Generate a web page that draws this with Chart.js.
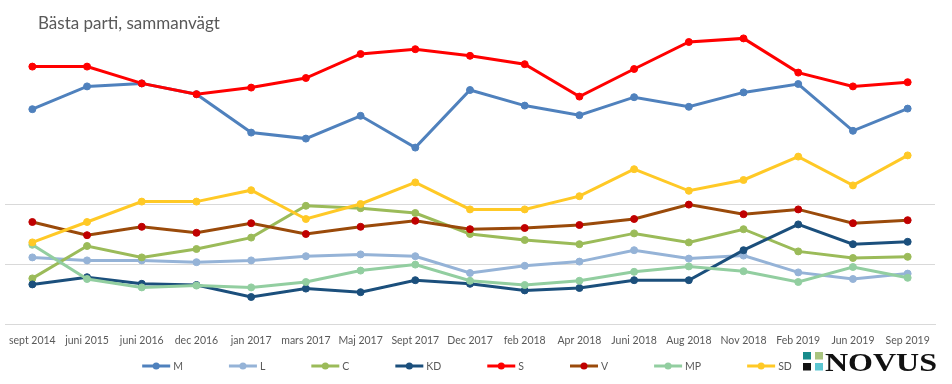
<!DOCTYPE html>
<html>
<head>
<meta charset="utf-8">
<script src="https://cdn.jsdelivr.net/npm/chart.js@4"></script>
<style>
  html, body { margin: 0; padding: 0; background: #fff; }
  #wrap { width: 952px; height: 384px; }
</style>
</head>
<body>
<div id="wrap"><canvas id="chart" width="952" height="384"></canvas></div>
<script>
// Survey rounds
const labels = ['sept 2014', 'juni 2015', 'juni 2016', 'dec 2016', 'jan 2017', 'mars 2017', 'Maj 2017', 'Sept 2017',
    'Dec 2017', 'feb 2018', 'Apr 2018', 'Juni 2018', 'Aug 2018', 'Nov 2018', 'Feb 2019', 'Jun 2019', 'Sep 2019'];

// Party values
const M  = [35.8, 39.6, 40.1, 38.3, 31.9, 30.9, 34.7, 29.4, 39.0, 36.4, 34.8, 37.8, 36.2, 38.6, 40.0, 32.2, 35.9];
const L  = [11.1, 10.6, 10.6, 10.3, 10.6, 11.3, 11.6, 11.3, 8.5, 9.7, 10.4, 12.3, 10.9, 11.4, 8.6, 7.5, 8.4];
const C  = [7.6, 13.0, 11.1, 12.5, 14.4, 19.7, 19.3, 18.5, 15.0, 14.0, 13.3, 15.1, 13.6, 15.8, 12.1, 11.0, 11.2];
const KD = [6.6, 7.8, 6.7, 6.5, 4.5, 5.9, 5.3, 7.3, 6.7, 5.6, 6.0, 7.3, 7.3, 12.3, 16.6, 13.3, 13.7];
const S  = [42.9, 42.9, 40.1, 38.3, 39.4, 41.0, 45.0, 45.8, 44.7, 43.3, 37.9, 42.5, 47.0, 47.6, 41.9, 39.6, 40.3];
const V  = [17.0, 14.8, 16.2, 15.2, 16.8, 15.0, 16.2, 17.2, 15.8, 16.0, 16.5, 17.5, 19.9, 18.3, 19.1, 16.8, 17.3];
const MP = [13.2, 7.5, 6.1, 6.4, 6.1, 7.0, 8.9, 9.9, 7.2, 6.5, 7.2, 8.7, 9.6, 8.8, 7.0, 9.5, 7.7];
const SD = [13.6, 17.0, 20.4, 20.4, 22.3, 17.5, 20.0, 23.6, 19.1, 19.1, 21.3, 25.8, 22.2, 24.0, 27.9, 23.1, 28.1];

const parties = ['M', 'L', 'C', 'KD', 'S', 'V', 'MP', 'SD'];
const series = [M, L, C, KD, S, V, MP, SD];
const lineColors = ['#4f81bd', '#95b3d7', '#9bbb59', '#1b4f7c', '#ff0000', '#9a4a0a', '#92cea0', '#ffc926'];
const dotColors  = ['#4f81bd', '#95b3d7', '#9bbb59', '#1b4f7c', '#ff0000', '#c00000', '#92cea0', '#ffc926'];

const FONT = 'Lato, "Open Sans", sans-serif';
const TEXT = '#595959';

// Title, legend and logo drawn on the canvas
const decorations = {
    id: 'decorations',
    afterDraw(chart) {
        const ctx = chart.ctx;
        const area = chart.chartArea;
        ctx.save();

        // title
        ctx.fillStyle = TEXT;
        ctx.font = '17px ' + FONT;
        ctx.textBaseline = 'alphabetic';
        ctx.textAlign = 'left';
        ctx.fillText('Bästa parti, sammanvägt', 38, 29);

        // legend: line + dot + name, centred under the plot
        ctx.font = '10.5px ' + FONT;
        const lineLen = 28, textGap = 3, itemGap = 46;
        const widths = parties.map(p => lineLen + textGap + ctx.measureText(p).width);
        const total = widths.reduce((a, b) => a + b, 0) + itemGap * (parties.length - 1);
        let x = (area.left + area.right) / 2 - total / 2 - 3;
        const ly = 366;
        ctx.textBaseline = 'middle';
        parties.forEach((p, i) => {
            ctx.strokeStyle = lineColors[i];
            ctx.lineWidth = 3;
            ctx.beginPath();
            ctx.moveTo(x, ly);
            ctx.lineTo(x + lineLen, ly);
            ctx.stroke();
            ctx.fillStyle = dotColors[i];
            ctx.beginPath();
            ctx.arc(x + lineLen / 2, ly, 3.5, 0, Math.PI * 2);
            ctx.fill();
            ctx.fillStyle = TEXT;
            ctx.fillText(p, x + lineLen + textGap, ly + 1);
            x += widths[i] + itemGap;
        });

        // Novus logo
        const sq = [['#178b8b', 803, 352], ['#a9c47f', 815, 352], ['#111111', 803, 363], ['#5cc6d2', 815, 363]];
        sq.forEach(([c, sx, sy]) => {
            ctx.fillStyle = c;
            ctx.fillRect(sx, sy, 8, 7.5);
        });
        ctx.fillStyle = '#111';
        ctx.font = 'bold 26px "Liberation Serif", serif';
        ctx.textBaseline = 'alphabetic';
        const w = ctx.measureText('NOVUS').width;
        ctx.translate(825, 370.5);
        ctx.scale(112 / w, 1);
        ctx.fillText('NOVUS', 0, 0);
        ctx.restore();
    }
};

const datasets = series.map((data, i) => ({
    label: parties[i],
    data: data,
    borderColor: lineColors[i],
    backgroundColor: dotColors[i],
    pointBackgroundColor: dotColors[i],
    pointBorderColor: dotColors[i],
    borderWidth: 3,
    pointRadius: 3.5,
    pointBorderWidth: 1,
    tension: 0,
    fill: false,
    order: series.length - i
}));

new Chart(document.getElementById('chart').getContext('2d'), {
    type: 'line',
    data: { labels, datasets },
    options: {
        responsive: false,
        animation: false,
        devicePixelRatio: 1,
        layout: { padding: { top: 24, right: 17, left: 0, bottom: 0 } },
        plugins: {
            legend: { display: false },
            title: { display: false },
            tooltip: { enabled: false }
        },
        scales: {
            x: {
                offset: true,
                grid: { display: false },
                border: { display: true, color: '#d9d9d9', width: 1 },
                ticks: {
                    color: TEXT,
                    font: { family: FONT, size: 10.5 },
                    autoSkip: false,
                    maxRotation: 0,
                    padding: 2
                },
                afterFit(scale) { scale.height = 60; }
            },
            y: {
                min: 0,
                max: 50,
                ticks: { display: false, stepSize: 10 },
                border: { display: false },
                grid: {
                    drawTicks: false,
                    color: ctx => (ctx.tick && ctx.tick.value <= 20) ? '#d9d9d9' : 'rgba(0,0,0,0)',
                    lineWidth: 1
                },
                afterFit(scale) { scale.width = 0; }
            }
        }
    },
    plugins: [decorations]
});
</script>
</body>
</html>
